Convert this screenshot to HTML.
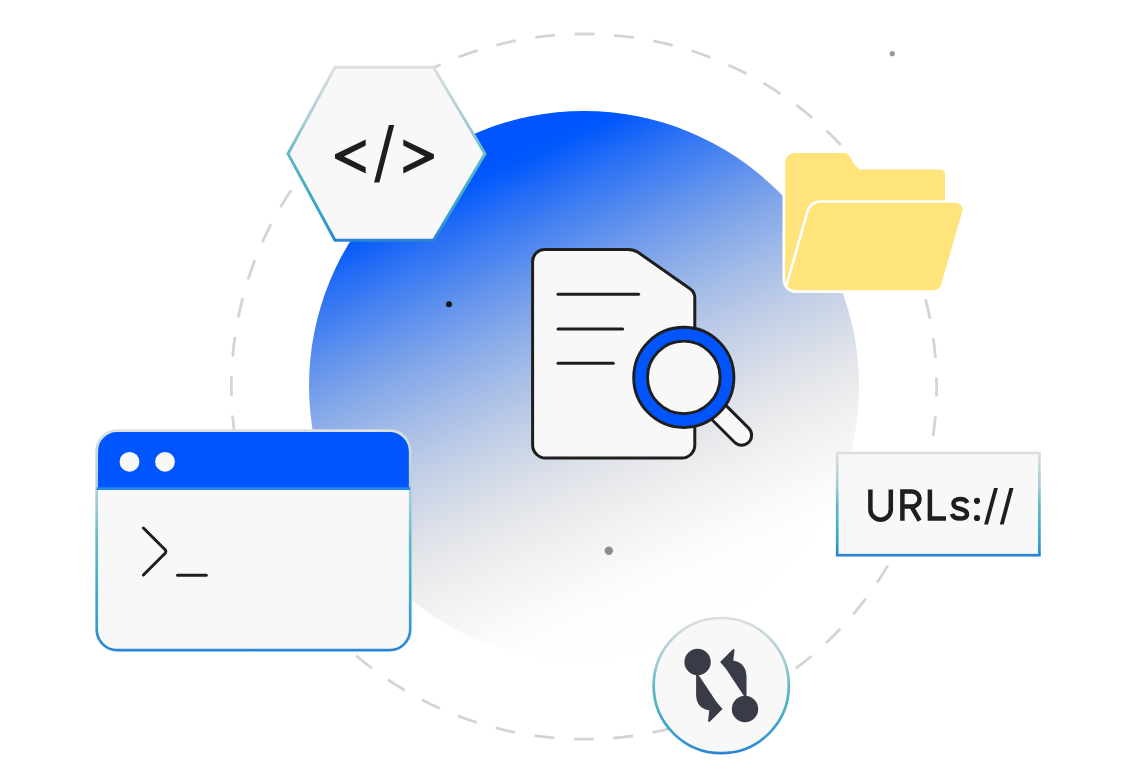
<!DOCTYPE html>
<html>
<head>
<meta charset="utf-8">
<style>
html,body{margin:0;padding:0;background:#ffffff;width:1136px;height:782px;overflow:hidden;}
svg{display:block;}
text{font-family:"Liberation Sans", sans-serif;}
</style>
</head>
<body>
<svg width="1136" height="782" viewBox="0 0 1136 782">
<defs>
  <linearGradient id="bg" gradientUnits="userSpaceOnUse" x1="469.96" y1="135.76" x2="698.04" y2="636.24">
    <stop offset="0" stop-color="#0055ff"/>
    <stop offset="0.06" stop-color="#0055ff"/>
    <stop offset="0.08" stop-color="#0258fc"/>
    <stop offset="0.1" stop-color="#0d5ffa"/>
    <stop offset="0.13" stop-color="#1e69f7"/>
    <stop offset="0.16" stop-color="#2e73f4"/>
    <stop offset="0.2" stop-color="#427ff1"/>
    <stop offset="0.25" stop-color="#5a8eee"/>
    <stop offset="0.3" stop-color="#719ceb"/>
    <stop offset="0.35" stop-color="#86a9e9"/>
    <stop offset="0.4" stop-color="#99b5e8"/>
    <stop offset="0.45" stop-color="#abc0e7"/>
    <stop offset="0.5" stop-color="#bbcae7"/>
    <stop offset="0.55" stop-color="#c9d4e7"/>
    <stop offset="0.6" stop-color="#d6dce8"/>
    <stop offset="0.65" stop-color="#e1e4ea"/>
    <stop offset="0.7" stop-color="#eaebed"/>
    <stop offset="0.75" stop-color="#f1f1f0"/>
    <stop offset="0.8" stop-color="#f7f6f4"/>
    <stop offset="0.85" stop-color="#fbfbf9"/>
    <stop offset="0.9" stop-color="#fefefe"/>
    <stop offset="1" stop-color="#ffffff"/>
  </linearGradient>
  <linearGradient id="st" x1="0" y1="0" x2="0" y2="1">
    <stop offset="0" stop-color="#dcdfe0"/>
    <stop offset="0.33" stop-color="#a0ccd4"/>
    <stop offset="0.5" stop-color="#62b9c6"/>
    <stop offset="0.62" stop-color="#50b4c4"/>
    <stop offset="0.76" stop-color="#40a8c8"/>
    <stop offset="0.87" stop-color="#389ed0"/>
    <stop offset="1" stop-color="#2a84d4"/>
  </linearGradient>
</defs>

<!-- dashed orbit -->
<circle cx="584" cy="386.6" r="352.6" fill="none" stroke="#d4d4d4" stroke-width="2.8"
  stroke-dasharray="20 19.56" stroke-dashoffset="10"/>

<!-- blue gradient disc -->
<circle cx="584" cy="386" r="275" fill="url(#bg)"/>

<!-- dots -->
<circle cx="892.3" cy="53.7" r="2.6" fill="#9a9a9a"/>
<circle cx="449" cy="304.3" r="3" fill="#151515"/>
<circle cx="608.8" cy="550.8" r="4.2" fill="#8c8c8c"/>

<!-- hexagon -->
<polygon points="288,153.8 335,67.3 433.5,67.3 485,153.8 433.5,240.3 335,240.3" fill="#f8f8f8" stroke="url(#st)" stroke-width="2.9" stroke-linejoin="miter"/>
<g fill="#1e1e1e">
  <polygon points="365.7,139.5 365.7,145.6 344,156.4 365.7,167.3 365.7,173.6 335,158.4 335,154.3"/>
  <polygon points="388.9,125 394.2,125 379.4,182.6 374.1,182.6"/>
  <polygon points="403.3,139.5 433.9,154.3 433.9,158.4 403.3,173.6 403.3,167.3 425,156.4 403.3,145.6"/>
</g>

<!-- terminal window -->
<g>
  <rect x="96.7" y="430.7" width="313.5" height="219.4" rx="20.5" fill="#f8f8f8"/>
  <path d="M96.7 488.5 V451.2 A20.5 20.5 0 0 1 117.2 430.7 H389.7 A20.5 20.5 0 0 1 410.2 451.2 V488.5 Z" fill="#0055ff"/>
  <rect x="96.7" y="430.7" width="313.5" height="219.4" rx="20.5" fill="none" stroke="url(#st)" stroke-width="2.7"/>
  <line x1="96.7" y1="488.6" x2="410.2" y2="488.6" stroke="#2386ee" stroke-width="2.8"/>
  <circle cx="129.5" cy="461.8" r="9.9" fill="#f8f8f8"/>
  <circle cx="165" cy="461.8" r="9.9" fill="#f8f8f8"/>
  <path d="M143.4 528 L163.4 548 Q168.4 551.5 163.4 555 L143.4 575" fill="none" stroke="#1e1e1e" stroke-width="3" stroke-linecap="round" stroke-linejoin="round"/>
  <line x1="177.5" y1="575.3" x2="206.3" y2="575.3" stroke="#1e1e1e" stroke-width="3" stroke-linecap="round"/>
</g>

<!-- document + magnifier -->
<g stroke="#1e1e1e" stroke-width="3" stroke-linecap="round" stroke-linejoin="round">
  <path d="M532.6 261.5 A12 12 0 0 1 544.6 249.5 H628 Q634 249.5 638 252.3 L690 288.8 Q694.8 292.2 694.8 298 V445 A13 13 0 0 1 681.8 458 H545.6 A13 13 0 0 1 532.6 445 Z" fill="#f8f8f8"/>
  <line x1="558" y1="294.3" x2="638.6" y2="294.3"/>
  <line x1="558" y1="329" x2="622.7" y2="329"/>
  <line x1="558" y1="363.3" x2="613.3" y2="363.3"/>
  <line x1="683.8" y1="377.4" x2="741.6" y2="435.2" stroke-width="23"/>
  <line x1="683.8" y1="377.4" x2="741.6" y2="435.2" stroke="#f8f8f8" stroke-width="17"/>
  <circle cx="683.8" cy="377.4" r="50.1" fill="#0055ff" stroke-width="2.9"/>
  <circle cx="683.8" cy="377.4" r="36.3" fill="#f8f8f8" stroke-width="2.9"/>
</g>

<!-- folder -->
<rect x="846" y="149" width="102" height="24" fill="#ffffff"/>
<g fill="#ffe37b" stroke="#ffffff" stroke-width="2.6" stroke-linejoin="round">
  <path d="M783.8 279.5 V162.7 A11 11 0 0 1 794.8 151.7 H845.5 C851.5 151.7 854.5 168.2 861.5 168.2 H940.3 A6 6 0 0 1 946.3 174.2 V215 L936 291.5 H795.8 A12 12 0 0 1 783.8 279.5 Z"/>
  <path d="M820.12 201.5 L955.85 201.5 A8 8 0 0 1 963.53 211.73 L942.49 284.29 A10 10 0 0 1 932.89 291.5 L795.8 291.5 A12 12 0 0 1 786.1 286.57 L807.61 210.94 A13 13 0 0 1 820.12 201.5 Z"/>
</g>

<!-- URL box -->
<rect x="837.2" y="453" width="202.2" height="102.2" fill="#f8f8f8" stroke="url(#st)" stroke-width="2.7"/>
<g fill="none" stroke="#1e1e1e" stroke-width="4.5">
  <path d="M870.4 489.5 V509.5 A10.2 10.2 0 0 0 890.8 509.5 V489.5"/>
  <path d="M902.4 520.7 V491.5 H912 A7.55 7.55 0 0 1 912 506.6 H902.4 M911.5 506.6 L919.6 520.7"/>
  <path d="M929.9 489.5 V518.5 H946"/>
  <path d="M967.3 502.8 C966.3 500.3 963.8 499.1 960 499.1 C956 499.1 953.5 500.9 953.5 503.7 C953.5 507 956.5 508 960 508.8 C964.5 509.8 967 511 967 514.2 C967 517 964 518.6 960 518.6 C955.5 518.6 952.8 516.9 952 513.9"/>
</g>
<g fill="#1e1e1e">
  <circle cx="977" cy="500.8" r="3.1"/>
  <circle cx="977" cy="518" r="3.1"/>
  <polygon points="994,488 997.9,488 988,524.6 984.1,524.6"/>
  <polygon points="1009.5,488 1013.5,488 1003.7,524.6 999.8,524.6"/>
</g>

<!-- bottom circle icon -->
<circle cx="721.25" cy="685.6" r="67.6" fill="#f8f8f8" stroke="url(#st)" stroke-width="2.7"/>
<g fill="#393c46">
  <circle cx="697.6" cy="662" r="13.2"/>
  <circle cx="745" cy="709" r="13.2"/>
  <path id="arr" d="M744.3 696.5 L726.1 668.9 L720.1 661.9 L732.6 649.4 Q734.6 648.4 734.5 650.6 L733.3 660.4 C735 661 737 661.4 739 662.4 C744 665 746.5 670 746.5 677 L746.5 696.5 Z"/>
  <use href="#arr" transform="rotate(180 721.3 685.5)"/>
</g>
</svg>
</body>
</html>
